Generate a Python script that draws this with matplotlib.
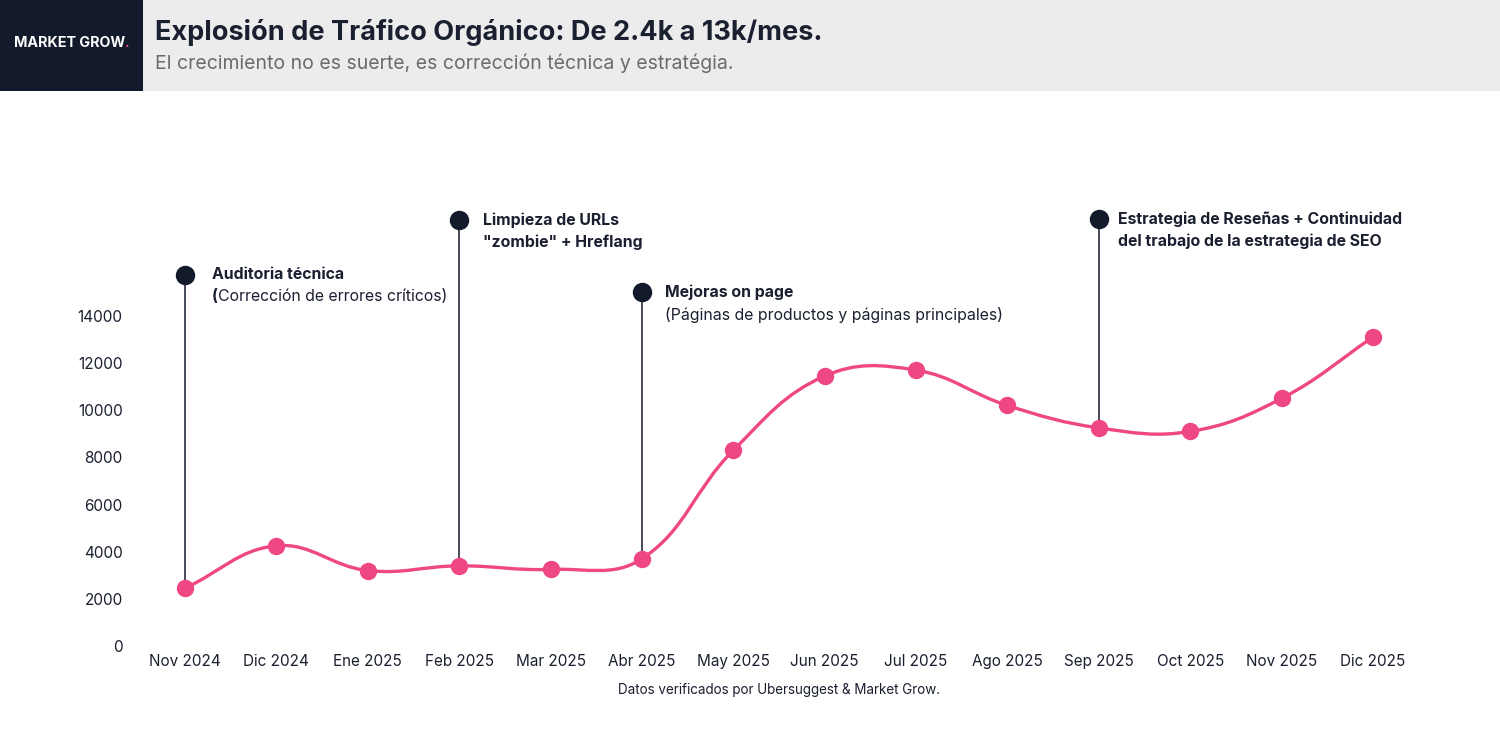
import numpy as np
import matplotlib.pyplot as plt
from matplotlib.path import Path
from matplotlib.patches import PathPatch, Rectangle

plt.rcParams['font.family'] = ['Inter', 'DejaVu Sans']

months = ['Nov 2024', 'Dic 2024', 'Ene 2025', 'Feb 2025', 'Mar 2025', 'Abr 2025', 'May 2025',
          'Jun 2025', 'Jul 2025', 'Ago 2025', 'Sep 2025', 'Oct 2025', 'Nov 2025', 'Dic 2025']
traffic = [2450, 4250, 3200, 3400, 3250, 3700, 8300, 11450, 11700, 10200, 9250, 9100, 10500, 13100]

# hitos: indice del mes, altura del marcador, lineas (texto, negrita)
event_idx = [0, 3, 5, 10]
event_top = [15750, 18050, 15000, 18100]
event_lines = [
    [[('Auditoria técnica', True)], [('(', True), ('Corrección de errores críticos)', False)]],
    [[('Limpieza de URLs', True)], [('"zombie" + Hreflang', True)]],
    [[('Mejoras on page', True)], [('(Páginas de productos y páginas principales)', False)]],
    [[('Estrategia de Reseñas + Continuidad', True)], [('del trabajo de la estrategia de SEO', True)]],
]
event_dx = [19.5, 17, 16.5, 13.5]  # separacion del texto, en puntos

PINK = '#ee4783'
DARK = '#121a2c'
TXT = '#1b2030'

fig = plt.figure(figsize=(15, 7.5), dpi=100)

# cabecera
fig.add_artist(Rectangle((0, 1 - 91 / 750), 1, 91 / 750, transform=fig.transFigure,
                         facecolor='#ececec', edgecolor='none'))
fig.add_artist(Rectangle((0, 1 - 91 / 750), 143 / 1500, 91 / 750, transform=fig.transFigure,
                         facecolor=DARK, edgecolor='none'))
logo = fig.text(14 / 1500, 1 - 43 / 750, 'MARKET GROW', color='white', fontsize=10.3,
                fontweight='bold', va='center', ha='left')
fig.canvas.draw()
bb = logo.get_window_extent()
fig.text(bb.x1 / 1500, 1 - 43 / 750, '.', color=PINK, fontsize=10.3, fontweight='bold',
         va='center', ha='left')
fig.text(155 / 1500, 1 - 32 / 750, 'Explosión de Tráfico Orgánico: De 2.4k a 13k/mes.',
         fontsize=19.5, fontweight='bold', color=TXT, va='center', ha='left')
fig.text(155 / 1500, 1 - 63 / 750, 'El crecimiento no es suerte, es corrección técnica y estratégia.',
         fontsize=14, color='#6b6b6b', va='center', ha='left')

ax = fig.add_axes([139.3 / 1500, 104 / 750, 1279.4 / 1500, 448 / 750])
ax.set_xlim(-0.5, 13.5)
ax.set_ylim(0, 19000)
for s in ax.spines.values():
    s.set_visible(False)
ax.set_yticks(range(0, 16000, 2000))
ax.set_xticks(range(len(months)))
ax.set_xticklabels(months)
ax.tick_params(length=0, labelsize=11, colors=TXT)
ax.tick_params(axis='y', pad=12)
ax.tick_params(axis='x', pad=6)

# curva suave (spline tipo Chart.js, tension 0.4) en coordenadas de pantalla
x = np.arange(len(traffic))
pts = ax.transData.transform(np.column_stack([x, traffic]))
t = 0.4
verts = [pts[0]]
codes = [Path.MOVETO]
cps = []
for i in range(len(pts)):
    prev = pts[max(i - 1, 0)]
    nxt = pts[min(i + 1, len(pts) - 1)]
    cur = pts[i]
    d01 = np.hypot(*(cur - prev))
    d12 = np.hypot(*(nxt - cur))
    tot = d01 + d12 if d01 + d12 > 0 else 1
    fa = t * d01 / tot
    fb = t * d12 / tot
    cps.append((cur - fa * (nxt - prev), cur + fb * (nxt - prev)))
for i in range(len(pts) - 1):
    verts += [cps[i][1], cps[i + 1][0], pts[i + 1]]
    codes += [Path.CURVE4] * 3
inv = ax.transData.inverted()
path = Path(inv.transform(np.array(verts)), codes)
ax.add_patch(PathPatch(path, facecolor='none', edgecolor=PINK, lw=2.4, zorder=3, capstyle='round'))

# hitos
for k, i in enumerate(event_idx):
    ax.plot([i, i], [traffic[i], event_top[k]], color=DARK, lw=1.1, zorder=2)
    ax.plot(i, event_top[k], 'o', color=DARK, ms=13, zorder=4, clip_on=False)
    for j, line in enumerate(event_lines[k]):
        prev_t = None
        for txt, bold in line:
            w = 'bold' if bold else 'normal'
            if prev_t is None:
                prev_t = ax.annotate(txt, xy=(i, event_top[k]), xytext=(event_dx[k], -16 * j),
                                     textcoords='offset points', fontsize=11.4, fontweight=w,
                                     color=TXT, va='center', ha='left')
            else:
                prev_t = ax.annotate(txt, xy=(1, 0), xycoords=prev_t, fontsize=11.4,
                                     fontweight=w, color=TXT, va='bottom', ha='left')

ax.plot(x, traffic, 'o', color=PINK, ms=11.5, zorder=5)

fig.text(779 / 1500, 1 - 690 / 750, 'Datos verificados por Ubersuggest & Market Grow.',
         fontsize=9.7, color=TXT, ha='center', va='center')

fig.savefig('out.png', dpi=100, facecolor='white')
